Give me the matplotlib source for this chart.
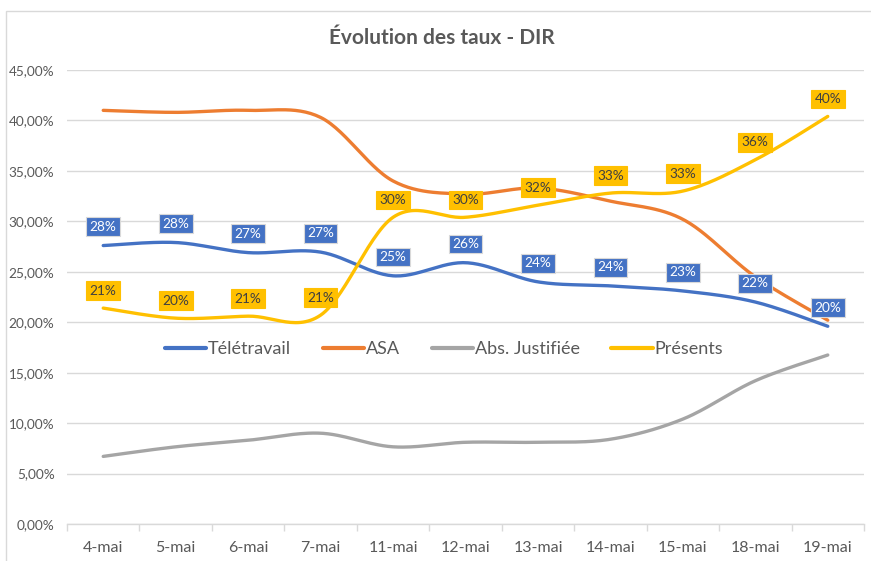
import numpy as np
import matplotlib
matplotlib.use("Agg")
import matplotlib.pyplot as plt
from matplotlib.patches import Rectangle
from matplotlib.ticker import FuncFormatter, FixedLocator

plt.rcParams['font.family'] = ['Lato', 'DejaVu Sans']

title = "Évolution des taux - DIR"
categories = ["4-mai", "5-mai", "6-mai", "7-mai", "11-mai", "12-mai",
              "13-mai", "14-mai", "15-mai", "18-mai", "19-mai"]
teletravail = [27.6, 27.9, 26.9, 26.95, 24.6, 25.9, 24.0, 23.6, 23.1, 22.0, 19.6]
asa = [41.0, 40.8, 41.0, 40.3, 34.0, 32.7, 33.3, 32.0, 30.2, 24.5, 20.2]
abs_justifiee = [6.7, 7.65, 8.3, 9.0, 7.65, 8.1, 8.1, 8.4, 10.4, 14.2, 16.75]
presents = [21.4, 20.4, 20.6, 20.7, 30.4, 30.4, 31.6, 32.8, 33.0, 36.1, 40.4]
series_names = ["Télétravail", "ASA", "Abs. Justifiée", "Présents"]
colors = ["#4472C4", "#ED7D31", "#A5A5A5", "#FFC000"]
y_ticks = [0, 5, 10, 15, 20, 25, 30, 35, 40, 45]

W, H = 871, 561
fig = plt.figure(figsize=(W / 100, H / 100), dpi=100)
ax = fig.add_axes([67 / W, 1 - 524 / H, (864 - 67) / W, (524 - 70) / H])


def smooth(xs, ys, n=30):
    xs = np.asarray(xs, float)
    ys = np.asarray(ys, float)
    P = np.column_stack([xs, ys])
    Pext = np.vstack([P[0], P, P[-1]])
    out = []
    t = np.linspace(0, 1, n)[:, None]
    for i in range(len(P) - 1):
        p0, p1, p2, p3 = Pext[i], Pext[i + 1], Pext[i + 2], Pext[i + 3]
        c1 = p1 + (p2 - p0) / 6.0
        c2 = p2 - (p3 - p1) / 6.0
        seg = ((1 - t) ** 3) * p1 + 3 * ((1 - t) ** 2) * t * c1 + 3 * (1 - t) * t ** 2 * c2 + t ** 3 * p2
        out.append(seg if i == 0 else seg[1:])
    seg = np.vstack(out)
    return seg[:, 0], seg[:, 1]


x = np.arange(len(categories))
all_series = [teletravail, asa, abs_justifiee, presents]
for vals, name, c in zip(all_series, series_names, colors):
    sx, sy = smooth(x, vals)
    ax.plot(sx, sy, color=c, lw=2.4, solid_capstyle='round', label=name, zorder=3)

# data labels
for xi, v in zip(x, teletravail):
    ax.annotate(f"{v:.0f}%", (xi, v), xytext=(0, 13.5), textcoords='offset points',
                ha='center', va='center', fontsize=9.8, color='white', zorder=5,
                bbox=dict(boxstyle='square,pad=0.25', fc=colors[0], ec='#D9D9D9', lw=0.8))
for xi, v in zip(x, presents):
    ax.annotate(f"{v:.0f}%", (xi, v), xytext=(0, 12.5), textcoords='offset points',
                ha='center', va='center', fontsize=9.8, color='#404040', zorder=5,
                bbox=dict(boxstyle='square,pad=0.25', fc=colors[3], ec=colors[3], lw=0.8))

ax.set_xlim(-0.5, len(categories) - 0.5)
ax.set_ylim(0, 45)
ax.set_yticks(y_ticks)
ax.yaxis.set_major_formatter(FuncFormatter(lambda v, p: f"{v:.2f}".replace('.', ',') + "%"))
ax.grid(axis='y', color='#D9D9D9', lw=1.0, zorder=0)
ax.set_axisbelow(True)
ax.set_xticks(x)
ax.set_xticklabels(categories)
ax.xaxis.set_minor_locator(FixedLocator(np.arange(-0.5, len(categories), 1.0)))
ax.tick_params(axis='x', which='major', length=0, pad=12, labelsize=11.5, labelcolor='#595959')
ax.tick_params(axis='x', which='minor', length=5, color='#D9D9D9', width=1)
ax.tick_params(axis='y', length=0, pad=9, labelsize=9.8, labelcolor='#595959')
for s in ['left', 'right', 'top']:
    ax.spines[s].set_visible(False)
ax.spines['bottom'].set_color('#D9D9D9')
ax.spines['bottom'].set_linewidth(1)

leg = fig.legend(loc='center', bbox_to_anchor=(444 / W, 1 - 349 / H), ncol=4, frameon=False,
                 fontsize=13, handlelength=2.3, handletextpad=0.1, columnspacing=1.75,
                 labelcolor='#595959')
for lh in leg.get_lines():
    lh.set_linewidth(3)

fig.text(442 / W, 1 - 38 / H, title, ha='center', va='center', fontsize=15,
         fontweight='bold', color='#595959')

fig.add_artist(Rectangle((6 / W, -0.2), 1.2, 1.2 - 11 / H,
                         transform=fig.transFigure, fill=False, ec='#D9D9D9', lw=1, clip_on=False))

fig.savefig("out.png", dpi=100)
